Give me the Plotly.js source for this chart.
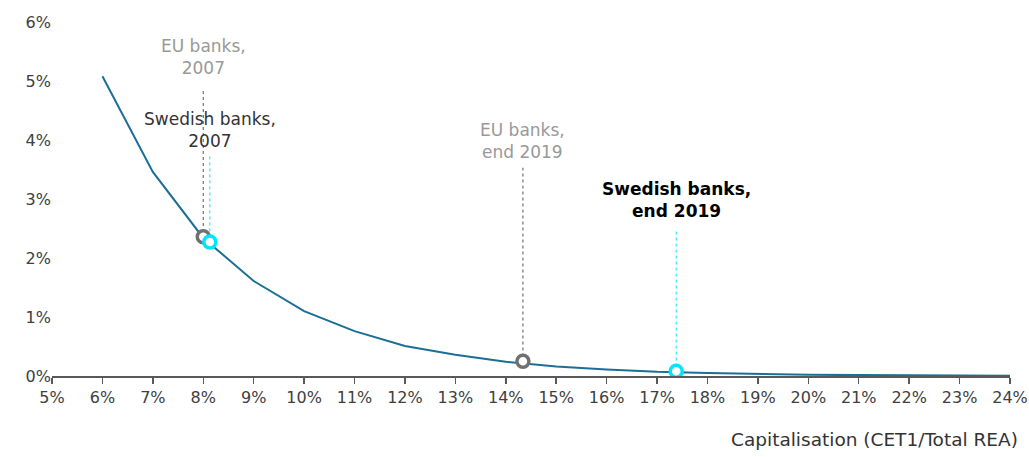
<!DOCTYPE html>
<html><head><meta charset="utf-8">
<script src="https://cdn.plot.ly/plotly-3.0.1.min.js"></script>
<style>body{margin:0;background:#fff}#c{width:1029px;height:457px}</style>
</head><body><div id="c"></div>
<script>
const capital = [6,7,8,9,10,11,12,13,14,15,16,17,18,19,20,21,22,23,24];
const prob = [5.08,3.46,2.34,1.61,1.10,0.76,0.51,0.36,0.24,0.16,0.11,0.07,0.05,0.03,0.02,0.015,0.01,0.006,0.003];
const pointNames = ["EU banks,<br>2007","Swedish banks,<br>2007","EU banks,<br>end 2019","<b>Swedish banks,<br>end 2019</b>"];
const pointX = [8.0, 8.13, 14.34, 17.38];
const pointY = [2.36, 2.27, 0.25, 0.08];
const pointColors = ["#707070","#00e5ff","#707070","#00e5ff"];
const lineTop = [4.88, 3.75, 3.53, 2.46];
const labelY = [5.41, 4.17, 3.98, 2.98];
const labelColors = ["#999999","#333333","#999999","#000000"];
const xTicks = [5,6,7,8,9,10,11,12,13,14,15,16,17,18,19,20,21,22,23,24];

const traces = [
 {x:capital, y:prob, type:'scatter', mode:'lines', line:{color:'#1b6f96', width:2}, hoverinfo:'skip'},
 {x:pointX, y:pointY, type:'scatter', mode:'markers',
  marker:{size:12, color:'#ffffff', line:{color:pointColors, width:3.5}}, hoverinfo:'skip'}
];
const shapes = pointX.map((x,i)=>({type:'line', xref:'x', yref:'y', x0:x, x1:x, y0:pointY[i]+0.08, y1:lineTop[i],
  line:{color: pointColors[i]==='#707070' ? '#555555' : '#00e5ff', width:1, dash:'dot'}, layer:'below'}));
const annotations = pointX.map((x,i)=>({x:x, y:labelY[i], xref:'x', yref:'y', text:pointNames[i], showarrow:false,
  font:{family:'DejaVu Sans', size:17, color:labelColors[i]}, align:'center', yanchor:'middle'}));
annotations.push({x:1, y:-0.18, xref:'paper', yref:'paper', xanchor:'right', yanchor:'middle', xshift:10,
  text:'Capitalisation (CET1/Total REA)', showarrow:false, font:{family:'DejaVu Sans', size:18.5, color:'#333'}});

const layout = {
 width:1029, height:457, margin:{l:52, r:19, t:22, b:81},
 paper_bgcolor:'#fff', plot_bgcolor:'#fff', showlegend:false,
 font:{family:'DejaVu Sans', size:16, color:'#333'},
 xaxis:{range:[5,24], tickvals:xTicks, ticktext:xTicks.map(v=>v+'%'), showgrid:false, zeroline:false,
   showline:true, linecolor:'#595959', linewidth:1.5, ticks:'outside', ticklen:6, tickcolor:'#595959', tickwidth:1.5,
   tickfont:{size:16, color:'#404040'}},
 yaxis:{range:[0,6], tickvals:[0,1,2,3,4,5,6], ticktext:['0%','1%','2%','3%','4%','5%','6%'], showgrid:false,
   zeroline:false, showline:false, ticks:'', tickfont:{size:16, color:'#404040'}},
 shapes:shapes, annotations:annotations
};
Plotly.newPlot('c', traces, layout, {staticPlot:true});
</script></body></html>
